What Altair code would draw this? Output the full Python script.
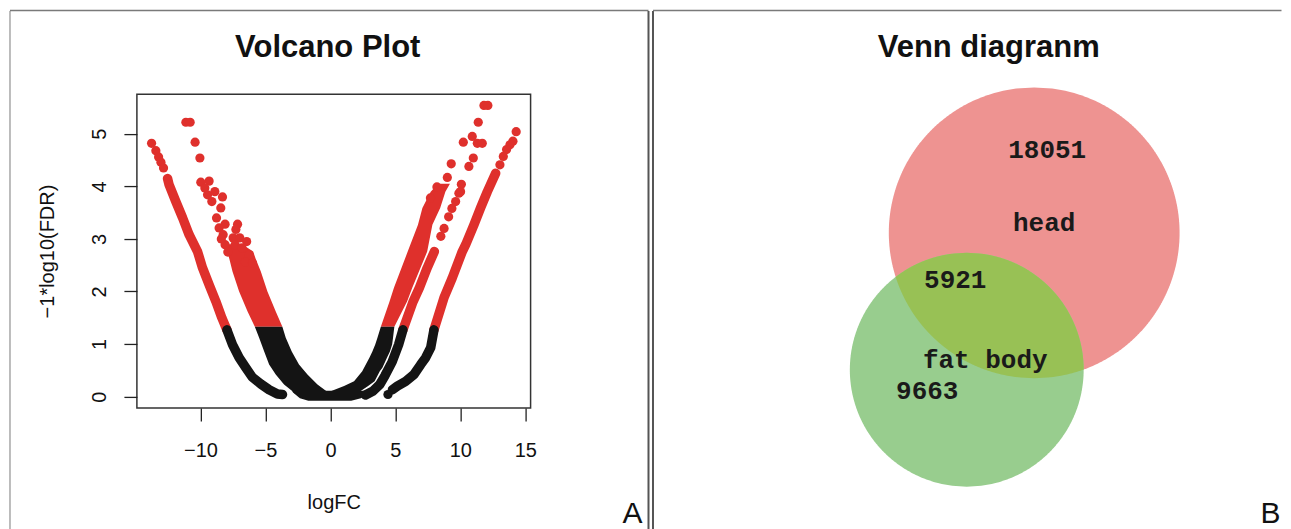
import math
import altair as alt
import pandas as pd

# ================= Panel A : volcano plot (logFC, -log10 FDR) =================
RED = "#DF302C"
BLACK = "#141414"

# isolated red points
RED_DOTS_X = [-13.77, -13.44, -13.23, -13.05, -12.85,
              -11.13, -10.80, -10.42, -10.05, -9.98, -9.34, -9.67, -8.90, -9.46, -8.31,
              -9.13, -8.44, -8.77, -8.11, -7.15, -8.57, -7.28, -8.26, -7.49, -6.98,
              -8.11, -7.34, -6.82, -7.90, -6.26, -6.55, -6.00, -8.40, -6.45,
              11.82, 12.12, 11.38, 10.23, 10.92, 11.31, 11.69, 11.00, 10.66, 9.30,
              10.08, 9.89, 9.00, 8.20, 7.70,
              8.50, 8.75, 9.10, 9.35, 9.64, 10.02,
              14.30, 14.05, 13.82, 13.56, 13.31, 13.05]
RED_DOTS_Y = [4.82, 4.68, 4.56, 4.46, 4.35,
              5.22, 5.22, 4.84, 4.54, 4.08, 4.10, 3.97, 3.90, 3.84, 3.80,
              3.71, 3.59, 3.40, 3.28, 3.28, 3.21, 3.18, 3.08, 3.02, 3.02,
              2.89, 2.89, 2.83, 2.75, 2.70, 2.56, 2.54, 3.00, 2.95,
              5.54, 5.54, 5.22, 4.84, 4.95, 4.82, 4.82, 4.54, 4.38, 4.43,
              4.04, 3.87, 4.17, 3.99, 3.78,
              3.05, 3.20, 3.42, 3.58, 3.71, 3.90,
              5.04, 4.86, 4.79, 4.70, 4.57, 4.41]
BLACK_DOTS_X = [4.43]
BLACK_DOTS_Y = [0.04]

# thin bands of points (centre lines)
OUTER_LEFT_RED_X = [-12.54, -12.42, -11.90, -11.38, -10.88, -10.23, -9.85, -9.34, -8.82, -8.36, -7.97]
OUTER_LEFT_RED_Y = [4.15, 4.03, 3.71, 3.40, 3.08, 2.76, 2.45, 2.13, 1.81, 1.50, 1.27]
OUTER_LEFT_BLACK_X = [-7.97, -7.54, -7.03, -6.52, -6.02, -5.36, -4.72, -4.08, -3.69]
OUTER_LEFT_BLACK_Y = [1.27, 0.99, 0.74, 0.55, 0.37, 0.24, 0.13, 0.05, 0.04]
MID_RIGHT_RED_X = [5.58, 6.35, 6.85, 7.45, 8.00]
MID_RIGHT_RED_Y = [1.27, 1.80, 2.07, 2.45, 2.76]
MID_RIGHT_BLACK_X = [2.70, 3.25, 3.80, 4.20, 4.75, 5.25, 5.58]
MID_RIGHT_BLACK_Y = [0.03, 0.10, 0.23, 0.40, 0.66, 0.99, 1.27]
OUTER_RIGHT_RED_X = [12.72, 12.08, 11.56, 11.05, 10.41, 10.15, 9.38, 8.74, 7.97]
OUTER_RIGHT_RED_Y = [4.25, 3.90, 3.59, 3.27, 2.89, 2.76, 2.26, 1.88, 1.27]
OUTER_RIGHT_BLACK_X = [7.97, 7.72, 7.33, 6.95, 6.43, 5.79, 5.15, 4.77]
OUTER_RIGHT_BLACK_Y = [1.27, 0.93, 0.74, 0.61, 0.42, 0.29, 0.20, 0.13]

# dense clouds of points: horizontal extent at each level
LEFT_FAN_RED_Y = [1.33, 1.62, 2.00, 2.38, 2.62, 2.76, 2.90]
LEFT_FAN_RED_XL = [-5.82, -6.38, -7.03, -7.54, -7.78, -7.95, -8.10]
LEFT_FAN_RED_XR = [-3.70, -4.21, -4.85, -5.36, -5.75, -5.95, -6.80]
LEFT_FAN_BLACK_Y = [0.06, 0.10, 0.23, 0.42, 0.61, 0.86, 1.12, 1.33]
LEFT_FAN_BLACK_XL = [-2.75, -2.92, -3.57, -4.21, -4.72, -5.10, -5.49, -5.82]
LEFT_FAN_BLACK_XR = [-0.10, -0.30, -1.00, -1.77, -2.42, -2.98, -3.44, -3.70]
RIGHT_MAIN_RED_Y = [1.33, 1.81, 2.07, 2.76, 3.27, 3.59, 3.90, 4.05]
RIGHT_MAIN_RED_XL = [3.88, 4.55, 4.89, 5.95, 6.74, 7.08, 7.72, 8.30]
RIGHT_MAIN_RED_XR = [4.92, 5.90, 6.30, 7.45, 7.85, 8.45, 8.85, 9.20]
RIGHT_MAIN_BLACK_Y = [0.06, 0.10, 0.20, 0.29, 0.48, 0.55, 0.74, 0.86, 0.99, 1.12, 1.33]
RIGHT_MAIN_BLACK_XL = [-0.20, 0.02, 1.05, 1.82, 2.45, 2.59, 3.00, 3.23, 3.45, 3.62, 3.88]
RIGHT_MAIN_BLACK_XR = [2.20, 2.30, 2.90, 3.40, 3.80, 4.00, 4.35, 4.58, 4.75, 4.82, 4.92]
BOWL_Y = [-0.08, -0.03, 0.03, 0.08, 0.11]
BOWL_XL = [-1.70, -2.35, -2.65, -2.88, -2.95]
BOWL_XR = [1.60, 2.35, 2.75, 2.95, 2.95]

X_TICKS = [-10, -5, 0, 5, 10, 15]
Y_TICKS = [0, 1, 2, 3, 4, 5]

SANS = "Liberation Sans"
XS = alt.Scale(domain=[-14.9, 15.41], nice=False, zero=False)
YS = alt.Scale(domain=[-0.215, 5.755], nice=False, zero=False)
X_AXIS = alt.Axis(values=X_TICKS, title="logFC", format="d", domain=False, grid=False,
                  tickSize=13, tickColor="#222222", tickWidth=1.3,
                  labelFont=SANS, labelFontSize=20, labelColor="#111111", labelPadding=20,
                  labelFlush=False, labelOverlap=False,
                  titleFont=SANS, titleFontSize=20, titleFontWeight="normal", titleColor="#111111",
                  titleBaseline="alphabetic", titleY=101)
Y_AXIS = alt.Axis(values=Y_TICKS, title="\u22121*log10(FDR)", format="d", domain=False, grid=False,
                  tickSize=13, tickColor="#222222", tickWidth=1.3,
                  labelFont=SANS, labelFontSize=20, labelColor="#111111", labelPadding=18,
                  labelAngle=270, labelAlign="center", labelBaseline="alphabetic",
                  labelFlush=False, labelOverlap=False,
                  titleFont=SANS, titleFontSize=20, titleFontWeight="normal", titleColor="#111111",
                  titleAngle=270, titleAlign="center", titleBaseline="alphabetic",
                  titleX=-83, titleY=157)


def X(field):
    return alt.X(field + ":Q", scale=XS, axis=X_AXIS)


def Y(field):
    return alt.Y(field + ":Q", scale=YS, axis=Y_AXIS)


def band(xs, ys, color):
    df = pd.DataFrame({"x": xs, "y": ys, "i": list(range(len(xs)))})
    return alt.Chart(df).mark_line(color=color, strokeWidth=9.5, strokeCap="round",
                                   strokeJoin="round").encode(x=X("x"), y=Y("y"), order="i:Q")


def cloud(ys, xl, xr, color):
    df = pd.DataFrame({"y": ys, "x": xl, "x2": xr})
    return alt.Chart(df).mark_area(orient="horizontal", color=color).encode(
        y=Y("y"), x=alt.X("x:Q", scale=XS, axis=X_AXIS, stack=False), x2="x2:Q")


def dots(xs, ys, color):
    df = pd.DataFrame({"x": xs, "y": ys})
    return alt.Chart(df).mark_circle(size=85, color=color, opacity=1).encode(x=X("x"), y=Y("y"))


ONE = pd.DataFrame({"k": [0]})


def rule(color, width, **enc):
    return alt.Chart(ONE).mark_rule(color=color, strokeWidth=width).encode(**enc)


def label(text, size, weight, align, font=SANS, **enc):
    return alt.Chart(ONE).mark_text(text=text, font=font, fontSize=size, fontWeight=weight,
                                    align=align, baseline="alphabetic", color="#111111").encode(**enc)


TOP = -83.75      # panel frame top, relative to the plot box
BOTTOM = 440      # frame runs off the bottom of the page

volcano_layers = [
    cloud(LEFT_FAN_RED_Y, LEFT_FAN_RED_XL, LEFT_FAN_RED_XR, RED),
    cloud(RIGHT_MAIN_RED_Y, RIGHT_MAIN_RED_XL, RIGHT_MAIN_RED_XR, RED),
    band(OUTER_LEFT_RED_X, OUTER_LEFT_RED_Y, RED),
    band(MID_RIGHT_RED_X, MID_RIGHT_RED_Y, RED),
    band(OUTER_RIGHT_RED_X, OUTER_RIGHT_RED_Y, RED),
    dots(RED_DOTS_X, RED_DOTS_Y, RED),
    cloud(LEFT_FAN_BLACK_Y, LEFT_FAN_BLACK_XL, LEFT_FAN_BLACK_XR, BLACK),
    cloud(RIGHT_MAIN_BLACK_Y, RIGHT_MAIN_BLACK_XL, RIGHT_MAIN_BLACK_XR, BLACK),
    cloud(BOWL_Y, BOWL_XL, BOWL_XR, BLACK),
    band(OUTER_LEFT_BLACK_X, OUTER_LEFT_BLACK_Y, BLACK),
    band(MID_RIGHT_BLACK_X, MID_RIGHT_BLACK_Y, BLACK),
    band(OUTER_RIGHT_BLACK_X, OUTER_RIGHT_BLACK_Y, BLACK),
    dots(BLACK_DOTS_X, BLACK_DOTS_Y, BLACK),
    # panel frame
    rule("#7a7a7a", 1, x=alt.value(-127), y=alt.value(TOP + 0.5), y2=alt.value(BOTTOM)),
    rule("#7a7a7a", 1.5, x=alt.value(-127), x2=alt.value(512), y=alt.value(TOP)),
    rule("#555555", 2, x=alt.value(512), y=alt.value(TOP + 0.5), y2=alt.value(BOTTOM)),
    label("Volcano Plot", 31, "bold", "center", x=alt.value(191), y=alt.value(-37.3)),
    label("A", 30, "normal", "right", x=alt.value(506), y=alt.value(429)),
]
volcano = alt.layer(*volcano_layers).properties(
    width=394, height=314, view=alt.ViewBackground(stroke="#333333", strokeWidth=1.5))

# ================= Panel B : Venn diagram =================
SETS = ["head", "fat body"]
ONLY_HEAD, BOTH, ONLY_FAT = 18051, 5921, 9663
HEAD_CX, HEAD_CY, HEAD_R = 0.0, 0.0, 145.5
FAT_CX, FAT_CY, FAT_R = -67.5, -137.0, 117.0
HEAD_COLOR, FAT_COLOR, BOTH_COLOR = "#EE9391", "#98CD8E", "#98C155"

VENN_TEXT = [str(ONLY_HEAD), SETS[0], str(BOTH), SETS[1], str(ONLY_FAT)]
VENN_TEXT_X = [13, 10, -79, -49, -107]
VENN_TEXT_Y = [74.5, 1.8, -55.5, -135.5, -166.5]


def half_width(cy, r, y):
    d = r * r - (y - cy) ** 2
    return math.sqrt(d) if d > 0 else 0.0


def disc_rows(cx, cy, r, n=260):
    rows = []
    for i in range(n + 1):
        y = cy - r + 2 * r * i / n
        h = half_width(cy, r, y)
        rows.append({"y": y, "x": cx - h, "x2": cx + h})
    return pd.DataFrame(rows)


def lens_rows(n=200):
    lo = max(HEAD_CY - HEAD_R, FAT_CY - FAT_R)
    hi = min(HEAD_CY + HEAD_R, FAT_CY + FAT_R)
    rows = []
    for i in range(n + 1):
        y = lo + (hi - lo) * i / n
        h1 = half_width(HEAD_CY, HEAD_R, y)
        h2 = half_width(FAT_CY, FAT_R, y)
        left = max(HEAD_CX - h1, FAT_CX - h2)
        right = min(HEAD_CX + h1, FAT_CX + h2)
        if right < left:
            right = left
        rows.append({"y": y, "x": left, "x2": right})
    return pd.DataFrame(rows)


VENN_W, VENN_H = 629, 420
VXS = alt.Scale(domain=[-381.5, -381.5 + VENN_W], nice=False, zero=False)
VYS = alt.Scale(domain=[-281.2, 138.8], nice=False, zero=False)


def venn_area(df, color):
    return alt.Chart(df).mark_area(orient="horizontal", color=color).encode(
        y=alt.Y("y:Q", scale=VYS, axis=None),
        x=alt.X("x:Q", scale=VXS, axis=None, stack=False), x2="x2:Q")


venn_text_df = pd.DataFrame({"t": VENN_TEXT, "x": VENN_TEXT_X, "y": VENN_TEXT_Y})
venn_layers = [
    venn_area(disc_rows(HEAD_CX, HEAD_CY, HEAD_R), HEAD_COLOR),
    venn_area(disc_rows(FAT_CX, FAT_CY, FAT_R), FAT_COLOR),
    venn_area(lens_rows(), BOTH_COLOR),
    alt.Chart(venn_text_df).mark_text(font="Liberation Mono", fontSize=26, fontWeight="bold",
                                      align="center", baseline="alphabetic", color="#1a1a1a").encode(
        x=alt.X("x:Q", scale=VXS, axis=None), y=alt.Y("y:Q", scale=VYS, axis=None), text="t:N"),
    rule("#555555", 2, x=alt.value(0), y=alt.value(TOP + 0.5), y2=alt.value(BOTTOM)),
    rule("#7a7a7a", 1.5, x=alt.value(0), x2=alt.value(VENN_W), y=alt.value(TOP)),
    label("Venn diagranm", 31, "bold", "center", x=alt.value(336), y=alt.value(-37.5)),
    label("B", 30, "normal", "right", x=alt.value(628), y=alt.value(429)),
]
venn = alt.layer(*venn_layers).properties(
    width=VENN_W, height=VENN_H, view=alt.ViewBackground(stroke="transparent"))

chart = alt.hconcat(volcano, venn, spacing=122.5, bounds="flush").properties(padding=0)
chart.save("out.html", embed_options={"renderer": "svg", "actions": False})
